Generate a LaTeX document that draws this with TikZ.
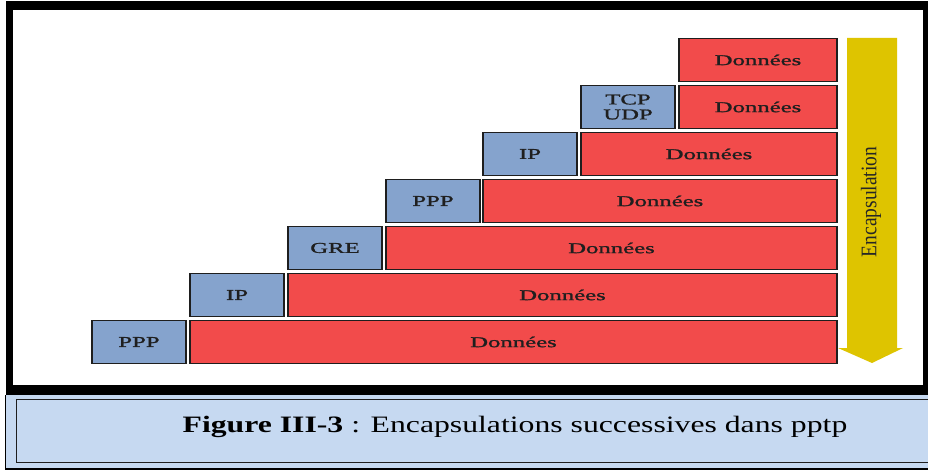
\documentclass[tikz,border=0pt]{standalone}
\usepackage{fontspec}
\setmainfont{Liberation Serif}
\newfontfamily\cellfont{Liberation Serif}[FakeStretch=1.65, FakeBold=1.2]
\newfontfamily\capfont{Liberation Serif}[FakeStretch=1.35]
\newfontfamily\encfont{Liberation Serif}[FakeStretch=1.18]
\definecolor{hdrblue}{RGB}{133,163,205}
\definecolor{datared}{RGB}{242,75,75}
\definecolor{capblue}{RGB}{198,217,241}
\definecolor{arrowgold}{RGB}{222,196,0}
\definecolor{edge}{RGB}{30,30,30}
\tikzset{
  cell/.style={draw=edge, line width=1.6pt, inner sep=0pt, outer sep=0pt,
    minimum height=43pt, anchor=north west, align=center,
    font=\cellfont\fontsize{15}{17}\selectfont, text=black!88},
  hdr/.style={cell, fill=hdrblue, minimum width=94pt},
  dat/.style={cell, fill=datared},
}
\begin{document}
\begin{tikzpicture}[x=1pt,y=-1pt]
\useasboundingbox (0,0) rectangle (928,470);

% outer black frame of the figure
\fill[black] (6,1) rectangle (928,395);
\fill[white] (13,10) rectangle (923,385);

% caption box with its double border
\fill[black] (5,395) rectangle (928,470);
\fill[capblue] (6,395) rectangle (928,468);
\draw[edge, line width=1.5pt] (16.5,399.5) rectangle (940,462.5);
\node[font=\capfont\fontsize{23.5}{28}\selectfont, anchor=base] (caption) at (515,432)
  {\textbf{Figure III-3} : Encapsulations successives dans pptp};

% row 0
\node[dat, minimum width=158pt] (d0) at (679,38.5) {Données};
% row 1
\node[hdr] (h1) at (581,85.5) {TCP\\[-2pt]UDP};
\node[dat, minimum width=158pt] (d1) at (679,85.5) {Données};
% row 2
\node[hdr] (h2) at (483,132.5) {IP};
\node[dat, minimum width=256pt] (d2) at (581,132.5) {Données};
% row 3
\node[hdr] (h3) at (386,179.5) {PPP};
\node[dat, minimum width=354pt] (d3) at (483,179.5) {Données};
% row 4
\node[hdr] (h4) at (288,226.5) {GRE};
\node[dat, minimum width=451pt] (d4) at (386,226.5) {Données};
% row 5
\node[hdr] (h5) at (190,273.5) {IP};
\node[dat, minimum width=549pt] (d5) at (288,273.5) {Données};
% row 6
\node[hdr] (h6) at (92,320.5) {PPP};
\node[dat, minimum width=647pt] (d6) at (190,320.5) {Données};

% downward encapsulation arrow
\fill[arrowgold] (847,38) -- (897,38) -- (897,348) -- (903,348) -- (872,363)
  -- (838,348) -- (847,348) -- cycle;
\node[rotate=90, inner sep=0pt, text=black!85] (enc) at (871,202)
  {\scalebox{1}[1.35]{\encfont\fontsize{16.5}{18}\selectfont Encapsulation}};
\end{tikzpicture}
\end{document}
